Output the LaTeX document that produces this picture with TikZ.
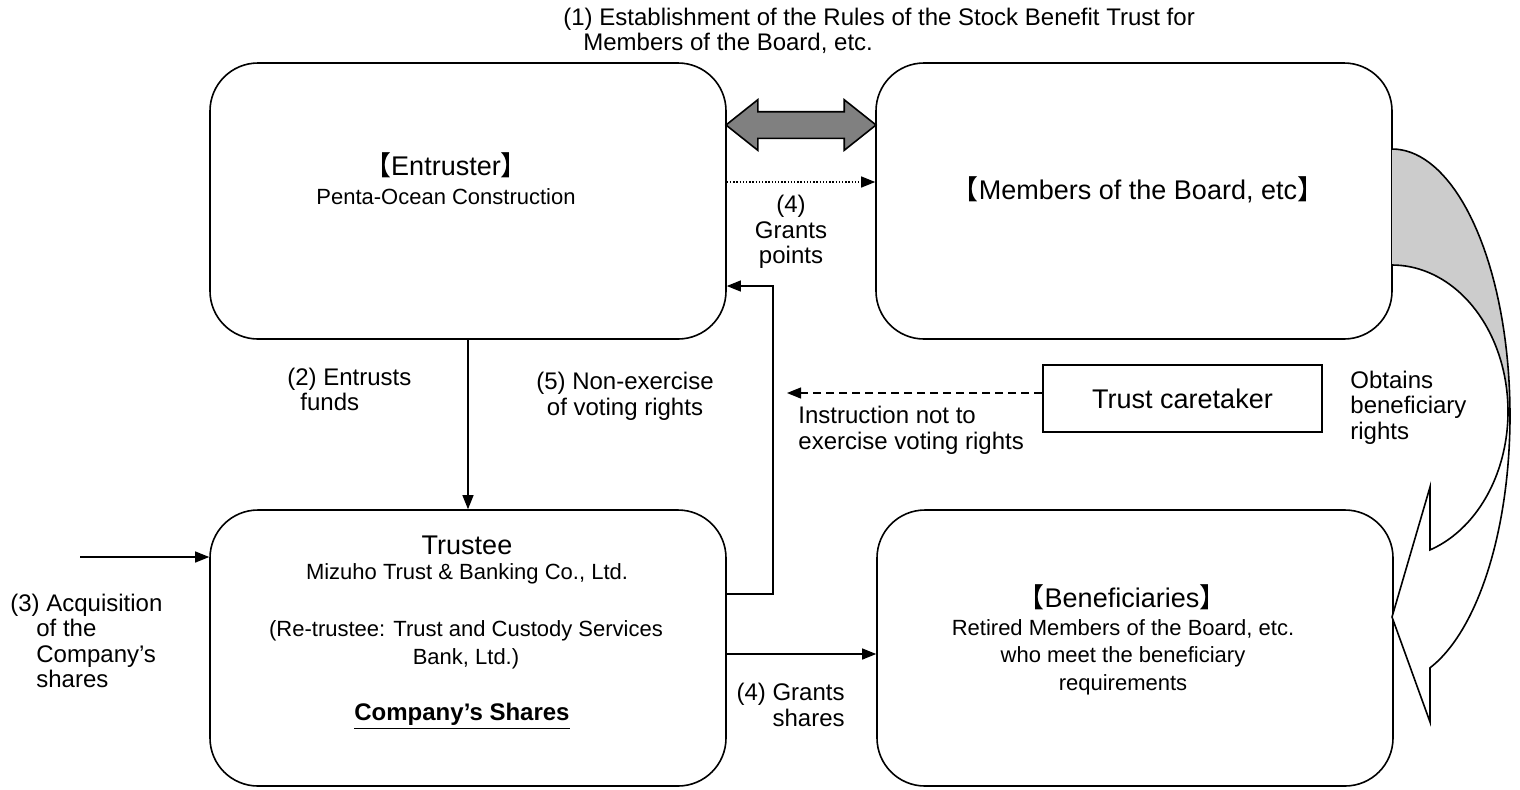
\documentclass[tikz,border=0pt]{standalone}
\usepackage{fontspec}
\setmainfont{Liberation Sans}
\newfontfamily\cjkfont{Noto Sans CJK JP}
\usetikzlibrary{arrows.meta, shapes.arrows}
\newcommand{\lbrk}{{\cjkfont 【}}
\newcommand{\rbrk}{{\cjkfont 】}}

\begin{document}
\begin{tikzpicture}[
    x=0.5pt, y=-0.5pt,
    bigbox/.style={rectangle, rounded corners=24pt, draw, line width=0.8pt, minimum width=258pt, minimum height=138pt},
    titletxt/.style={inner sep=0pt, font=\fontsize{13.5}{16}\selectfont},
    subtxt/.style={inner sep=0pt, align=center, font=\fontsize{11}{13.8}\selectfont},
    lbl/.style={inner sep=0pt, font=\fontsize{12}{12.8}\selectfont},
    arrow/.style={-{Triangle[length=7pt, width=5.5pt]}, line width=0.6pt},
  ]
  \useasboundingbox (0,0) rectangle (1520,789);

  % the four parties
  \node[bigbox] (entr) at (468,201) {};
  \node[bigbox] (memb) at (1134,201) {};
  \node[bigbox] (trus) at (468,648) {};
  \node[bigbox] (bene) at (1135,648) {};
  \node[rectangle, draw, line width=0.8pt, minimum width=139.5pt, minimum height=33.5pt, font=\fontsize{13.5}{16}\selectfont] (care) at (1182.5,398.5) {Trust caretaker};

  \node[titletxt] (entrttl) at (446,165) {\lbrk Entruster\rbrk};
  \node[subtxt] (entrsub) at (446,197) {Penta-Ocean Construction};
  \node[titletxt] (membttl) at (1138,190) {\lbrk Members of the Board, etc\rbrk};
  \node[titletxt] (trusttl) at (467,545) {Trustee};
  \node[subtxt] (trussub) at (467,574) {Mizuho Trust \& Banking Co., Ltd.};
  \node[subtxt] (retrus) at (466,644.5) {(Re-trustee: Trust and Custody Services\\Bank, Ltd.)};
  \node[subtxt, font=\fontsize{12}{14}\selectfont\bfseries] (shares) at (462,716) {\underline{Company’s Shares}};
  \node[titletxt] (benettl) at (1122,597) {\lbrk Beneficiaries\rbrk};
  \node[subtxt] (benesub) at (1123,657) {Retired Members of the Board, etc.\\who meet the beneficiary\\requirements};

  % block arrow between entruster and members
  \node[double arrow, draw, fill=gray, line width=0.8pt, minimum height=75pt, inner sep=6.25pt, double arrow head extend=6pt, double arrow tip angle=77] (rulesarr) at (801,125) {};

  % curved arrow: members -> beneficiaries
  \fill[gray!40] plot[domain=90:0, samples=40] ({1392+118*cos(\x)}, {415.5-266.5*sin(\x)})
    -- plot[domain=0:90, samples=40] ({1392+116*cos(\x)}, {411.5-146.5*sin(\x)}) -- cycle;
  \draw[line width=0.8pt] plot[domain=90:0, samples=40] ({1392+118*cos(\x)}, {415.5-266.5*sin(\x)});
  \draw[line width=0.8pt] plot[domain=90:0, samples=40] ({1392+116*cos(\x)}, {411.5-146.5*sin(\x)});
  \filldraw[fill=white, line width=0.8pt, line join=miter]
    plot[domain=0:-70.9, samples=40] ({1392+116*cos(\x)}, {411.5-146.5*sin(\x)})
    -- (1430,487) -- (1392,617) -- (1430,722) -- (1430,668)
    -- plot[domain=-71.2:0, samples=40] ({1392+118*cos(\x)}, {415.5-266.5*sin(\x)}) -- cycle;

  % labels
  \node[lbl, anchor=west, align=left] (rulesnote) at (563,31) {(1) Establishment of the Rules of the Stock Benefit Trust for\\\hspace*{10pt}Members of the Board, etc.};
  \node[lbl, align=center] (grantpts) at (791,232) {(4)\\Grants\\points};
  \node[lbl, anchor=west, align=left] (entrusts) at (287,389.5) {(2) Entrusts\\\hspace*{6.5pt}funds};
  \node[lbl, align=center] (nonexer) at (625,396) {(5) Non-exercise\\of voting rights};
  \node[lbl, anchor=east, align=right] (grantshr) at (845,705) {(4) Grants\\shares};
  \node[lbl, anchor=west, align=left] (instr) at (798,430) {Instruction not to\\exercise voting rights};
  \node[lbl, anchor=west, align=left] (obtains) at (1350,407.5) {Obtains\\beneficiary\\rights};
  \node[lbl, anchor=west, align=left] (acq) at (10,641) {(3) Acquisition\\\hspace*{13pt}of the\\\hspace*{13pt}Company’s\\\hspace*{13pt}shares};

  % connectors
  \draw[arrow] (entr.south) -- (trus.north);
  \draw[arrow, dash pattern=on 0.7pt off 0.9pt] ([yshift=9.5pt]entr.east) -- ([yshift=9.5pt]memb.west);
  \coordinate (vturn) at (773,440);
  \draw[arrow] ([yshift=27pt]trus.east) -| (vturn) |- ([yshift=-42.5pt]entr.east);
  \draw[arrow] ([yshift=-3pt]trus.east) -- ([yshift=-3pt]bene.west);
  \coordinate (instrend) at (787,393);
  \draw[arrow, dash pattern=on 4pt off 2.5pt] ([yshift=2.75pt]care.west) -- (instrend);
  \coordinate (acqstart) at (80,557);
  \draw[arrow] (acqstart) -- (trus.west |- acqstart);
\end{tikzpicture}
\end{document}
